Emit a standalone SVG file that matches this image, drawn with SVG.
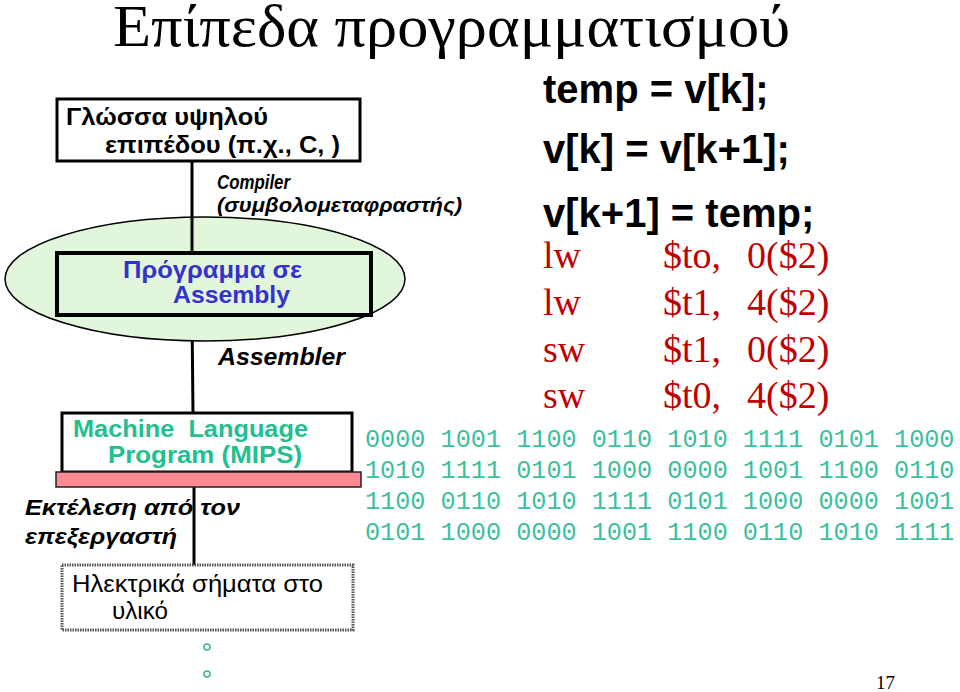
<svg xmlns="http://www.w3.org/2000/svg" width="960" height="692" viewBox="0 0 960 692">
<style>
.s{font-family:"Liberation Sans",Arial,sans-serif}
.sr{font-family:"Liberation Serif","Times New Roman",serif}
.m{font-family:"Liberation Mono","Courier New",monospace;font-size:25.2px;fill:#3cc09e}
.lbl{font-family:"Liberation Sans",Arial,sans-serif;font-style:italic;font-weight:bold}
.code{font-family:"Liberation Sans",Arial,sans-serif;font-weight:bold;font-size:40px;fill:#000}
.asm{font-family:"Liberation Serif","Times New Roman",serif;font-size:38px;fill:#c00000}
</style>
<rect width="960" height="692" fill="#fff"/>
<text class="sr" x="113" y="46" font-size="60" fill="#000" textLength="677" lengthAdjust="spacingAndGlyphs">Επίπεδα προγραμματισμού</text>

<g id="connectors" stroke="#000" stroke-width="3" fill="none">
<line x1="192" y1="161" x2="192" y2="253"/>
<line x1="192" y1="315" x2="193" y2="413"/>
<line x1="194" y1="487" x2="194" y2="565"/>
</g>

<g id="ellipse">
<ellipse cx="205" cy="279" rx="200" ry="62" fill="#e2f6dc" stroke="#000" stroke-width="1.5"/>
<line x1="192" y1="217" x2="192" y2="253" stroke="#000" stroke-width="3"/>
</g>

<g id="high-level">
<rect x="57" y="99" width="303" height="62" fill="#fff" stroke="#000" stroke-width="3"/>
<text class="s" font-size="24" font-weight="bold" fill="#000" x="66" y="125" textLength="202" lengthAdjust="spacingAndGlyphs">Γλώσσα υψηλού</text>
<text class="s" font-size="24" font-weight="bold" fill="#000" x="105" y="153" textLength="235" lengthAdjust="spacingAndGlyphs">επιπέδου (π.χ., C, )</text>
</g>

<g id="compiler">
<text class="lbl" font-size="20" fill="#000" x="217" y="189" textLength="73" lengthAdjust="spacingAndGlyphs">Compiler</text>
<text class="lbl" font-size="20" fill="#000" x="217" y="212" textLength="245" lengthAdjust="spacingAndGlyphs">(συμβολομεταφραστής)</text>
</g>

<g id="assembly">
<rect x="57" y="253" width="314" height="62" fill="#e2f6dc" stroke="#000" stroke-width="4"/>
<text class="s" font-size="24" font-weight="bold" fill="#3333cc" x="123" y="278" textLength="179" lengthAdjust="spacingAndGlyphs">Πρόγραμμα σε</text>
<text class="s" font-size="24" font-weight="bold" fill="#3333cc" x="173" y="303" textLength="117" lengthAdjust="spacingAndGlyphs">Assembly</text>
</g>

<g id="assembler">
<text class="lbl" font-size="24" fill="#000" x="218" y="365" textLength="127" lengthAdjust="spacingAndGlyphs">Assembler</text>
</g>

<g id="machine">
<rect x="62" y="413" width="290" height="59" fill="#fff" stroke="#000" stroke-width="3"/>
<rect x="56" y="472" width="305" height="15" fill="#ff8a95" stroke="#222" stroke-width="1.5"/>
<text class="s" font-size="23" font-weight="bold" fill="#22c08f" x="73" y="437" xml:space="preserve" textLength="235" lengthAdjust="spacingAndGlyphs">Machine  Language</text>
<text class="s" font-size="23" font-weight="bold" fill="#22c08f" x="108" y="463" textLength="194" lengthAdjust="spacingAndGlyphs">Program (MIPS)</text>
</g>

<g id="execution">
<text class="lbl" font-size="22" fill="#000" x="25" y="515" textLength="215" lengthAdjust="spacingAndGlyphs">Εκτέλεση από τον</text>
<text class="lbl" font-size="22" fill="#000" x="25" y="544" textLength="152" lengthAdjust="spacingAndGlyphs">επεξεργαστή</text>
</g>

<g id="hardware">
<rect x="62" y="565" width="291" height="65" fill="#fff" stroke="#555" stroke-width="3" stroke-dasharray="1.5 1"/>
<text class="s" font-size="24" fill="#000" x="72" y="592" textLength="251" lengthAdjust="spacingAndGlyphs">Ηλεκτρικά σήματα στο</text>
<text class="s" font-size="24" fill="#000" x="112" y="619" textLength="56" lengthAdjust="spacingAndGlyphs">υλικό</text>
</g>

<g id="dots" fill="none" stroke="#2db894" stroke-width="1.5">
<circle cx="207" cy="647" r="3"/>
<circle cx="207" cy="674" r="3"/>
</g>

<g id="c-code">
<text class="code" x="543" y="103">temp = v[k];</text>
<text class="code" x="543" y="163">v[k] = v[k+1];</text>
<text class="code" x="543" y="227">v[k+1] = temp;</text>
</g>

<g id="asm-code">
<text class="asm" x="543" y="268">lw</text><text class="asm" x="663" y="268">$to,</text><text class="asm" x="747" y="268">0($2)</text>
<text class="asm" x="543" y="315">lw</text><text class="asm" x="663" y="315">$t1,</text><text class="asm" x="747" y="315">4($2)</text>
<text class="asm" x="543" y="362">sw</text><text class="asm" x="663" y="362">$t1,</text><text class="asm" x="747" y="362">0($2)</text>
<text class="asm" x="543" y="408">sw</text><text class="asm" x="663" y="408">$t0,</text><text class="asm" x="747" y="408">4($2)</text>
</g>

<g id="binary">
<text class="m" x="365" y="447">0000 1001 1100 0110 1010 1111 0101 1000</text>
<text class="m" x="365" y="478">1010 1111 0101 1000 0000 1001 1100 0110</text>
<text class="m" x="365" y="509">1100 0110 1010 1111 0101 1000 0000 1001</text>
<text class="m" x="365" y="540">0101 1000 0000 1001 1100 0110 1010 1111</text>
</g>

<text class="sr" x="876" y="689" font-size="19" fill="#000">17</text>
</svg>
